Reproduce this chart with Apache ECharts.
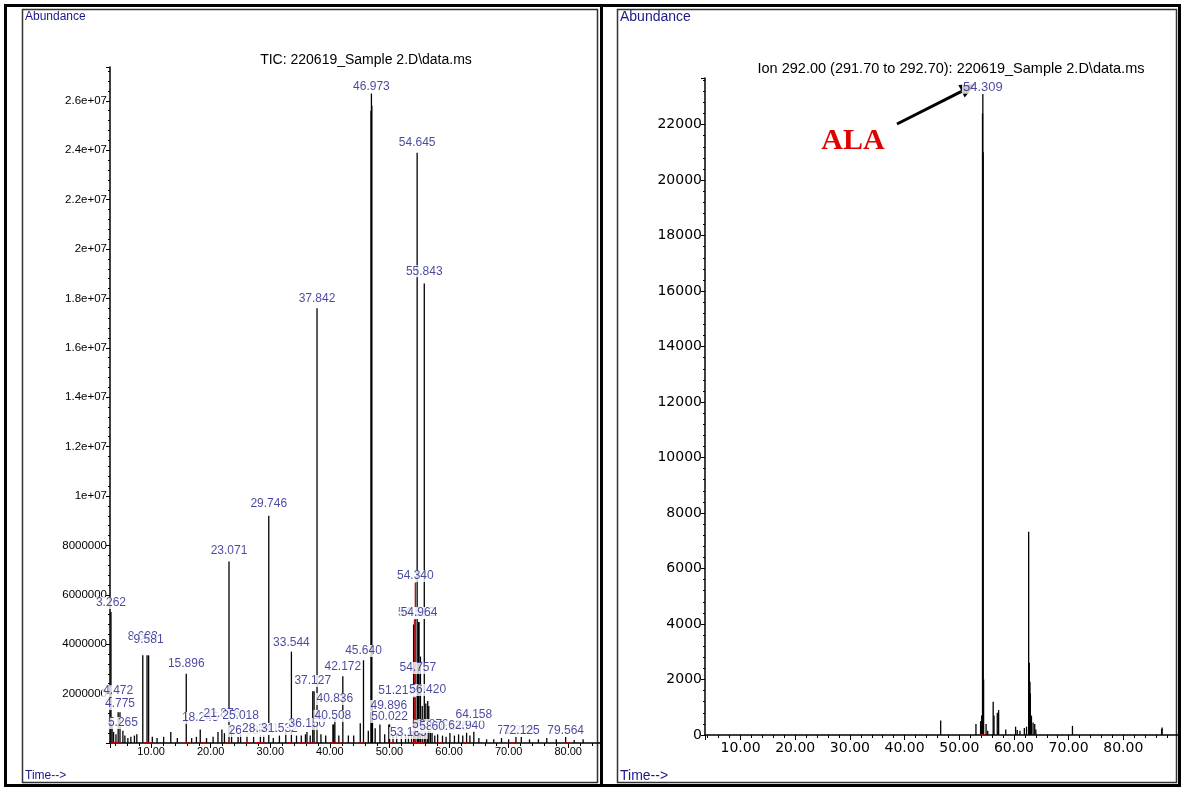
<!DOCTYPE html>
<html>
<head>
<meta charset="utf-8">
<script src="https://cdn.jsdelivr.net/npm/echarts@6/dist/echarts.min.js"></script>
<style>
  html, body { margin: 0; padding: 0; background: #ffffff; }
  #chart { width: 1182px; height: 789px; }
</style>
</head>
<body>
<div id="chart"></div>
<script>
// ---------- data ----------
// Total ion chromatogram: [retention time (min), abundance]
const ticPeaks = [
  [3.262, 5.3e6], [3.45, 0.8e6], [3.7, 0.45e6], [4.1, 0.35e6],
  [4.472, 1.25e6], [4.775, 1.25e6], [5.265, 0.5e6], [5.6, 0.3e6], [6.1, 0.2e6],
  [6.6, 0.25e6], [7.2, 0.3e6], [7.6, 0.35e6], [8.603, 3.55e6], [9.318, 3.55e6],
  [9.581, 3.55e6], [10.2, 0.25e6], [11.0, 0.2e6], [12.1, 0.25e6], [13.3, 0.45e6],
  [14.4, 0.2e6], [15.896, 2.8e6], [16.8, 0.2e6], [17.6, 0.25e6], [18.245, 0.55e6],
  [19.3, 0.2e6], [20.4, 0.25e6], [21.223, 0.45e6], [21.876, 0.55e6], [22.304, 0.4e6],
  [23.071, 7.35e6], [23.5, 0.6e6], [24.6, 0.25e6], [25.018, 0.35e6], [26.088, 0.3e6],
  [27.2, 0.25e6], [28.341, 0.35e6], [28.9, 0.3e6], [29.746, 9.2e6], [30.5, 0.2e6],
  [31.532, 0.3e6], [32.6, 0.45e6], [33.544, 3.7e6], [34.4, 0.3e6], [35.2, 0.3e6],
  [35.9, 0.35e6], [36.150, 0.45e6], [36.7, 0.3e6], [37.127, 2.1e6], [37.35, 2.1e6],
  [37.842, 17.6e6], [38.5, 0.35e6], [39.3, 0.3e6], [40.508, 0.75e6], [40.65, 0.75e6],
  [40.836, 1.0e6], [41.5, 0.3e6], [42.172, 2.7e6], [43.1, 0.3e6], [44.0, 0.3e6],
  [45.1, 0.8e6], [45.640, 3.35e6], [46.45, 0.5e6], [46.90, 25.6e6], [46.973, 26.3e6],
  [47.04, 25.8e6], [47.15, 1.6e6], [47.6, 0.6e6], [48.4, 0.75e6], [49.2, 0.35e6],
  [49.896, 0.75e6], [50.022, 0.75e6], [50.6, 0.3e6], [51.213, 0.4e6], [52.0, 0.3e6],
  [52.7, 0.35e6], [53.185, 0.35e6], [53.7, 0.5e6], [54.05, 4.8e6], [54.200, 5.0e6],
  [54.340, 6.5e6], [54.645, 23.9e6], [54.757, 2.9e6], [54.850, 4.9e6], [54.964, 4.9e6],
  [55.2, 3.5e6], [55.5, 1.5e6], [55.843, 18.6e6], [56.1, 1.6e6], [56.420, 1.7e6],
  [56.6, 1.5e6], [56.872, 0.5e6], [57.148, 0.4e6], [57.6, 0.3e6], [58.082, 0.35e6],
  [58.9, 0.3e6], [59.5, 0.25e6], [60.146, 0.4e6], [60.9, 0.3e6], [61.6, 0.35e6],
  [62.3, 0.3e6], [62.940, 0.45e6], [63.5, 0.3e6], [64.158, 0.5e6], [65.0, 0.2e6],
  [66.3, 0.15e6], [67.5, 0.15e6], [68.8, 0.2e6], [70.0, 0.15e6], [71.228, 0.35e6],
  [72.125, 0.3e6], [73.5, 0.15e6], [75.0, 0.15e6], [76.4, 0.2e6], [78.0, 0.15e6],
  [79.564, 0.25e6], [81.0, 0.12e6], [82.5, 0.15e6]
];
// integrated peaks drawn in red
const ticRedTimes = [54.340, 54.200];
// integration start/stop events marked on the TIC baseline
const ticEventTimes = [
  3.6, 4.5, 9.3, 9.8, 16.0, 18.7, 22.8, 26.1, 28.0, 28.8, 33.3, 35.3, 36.3, 37.2,
  40.5, 41.7, 45.4, 50.4, 54.0, 54.5, 55.1, 55.6, 58.5, 62.7, 70.7, 79.8
];

// labelled peaks on the TIC (retention times)
const ticLabelTimes = [
  3.262, 4.472, 4.775, 5.265, 8.603, 9.581, 15.896, 18.245, 21.876, 25.018,
  26.088, 28.341, 31.532, 36.150, 23.071, 29.746, 33.544, 37.127, 37.842, 40.836,
  40.508, 42.172, 45.640, 46.973, 49.896, 50.022, 51.213, 53.185, 54.340, 54.645,
  54.512, 54.964, 54.757, 55.843, 56.420, 56.872, 58.082, 60.146, 62.940, 64.158,
  71.228, 72.125, 79.564
];

// Extracted ion 292.00: [retention time (min), abundance]
const ionPeaks = [
  [46.6, 520], [53.05, 400], [53.9, 500], [54.10, 700], [54.25, 22400],
  [54.309, 23100], [54.37, 21000], [54.45, 2000], [54.9, 400], [55.2, 150],
  [56.2, 1200], [56.35, 700], [56.95, 800], [57.2, 900], [58.5, 200], [60.3, 300],
  [60.6, 180], [61.1, 150], [61.9, 250], [62.3, 300], [62.69, 7330], [62.8, 2600],
  [62.93, 1920], [63.0, 1500], [63.2, 700], [63.5, 450], [63.8, 400], [64.0, 200],
  [70.7, 330], [87.0, 220], [87.1, 270]
];
const ionLabelTimes = [54.309];
const ionEventTimes = [54.35];

// axis tick labels
const ticYTickLabels = ['', '2000000', '4000000', '6000000', '8000000', '1e+07', '1.2e+07',
  '1.4e+07', '1.6e+07', '1.8e+07', '2e+07', '2.2e+07', '2.4e+07', '2.6e+07'];
const ionYTickLabels = ['0', '2000', '4000', '6000', '8000', '10000', '12000', '14000',
  '16000', '18000', '20000', '22000'];
const timeTickLabels = ['10.00', '20.00', '30.00', '40.00', '50.00', '60.00', '70.00', '80.00'];

// ---------- layout ----------
// abundance at which each TIC label sits (labels are stacked to avoid the traces)
const ticLabelLevel = [
  5.67e6, 2.1e6, 1.58e6, 0.81e6, 4.29e6, 4.17e6, 3.2e6, 1.01e6, 1.17e6, 1.09e6,
  0.49e6, 0.57e6, 0.57e6, 0.77e6, 7.77e6, 9.68e6, 4.05e6, 2.51e6, 18.0e6, 1.78e6,
  1.09e6, 3.08e6, 3.72e6, 26.56e6, 1.5e6, 1.05e6, 2.1e6, 0.4e6, 6.76e6, 24.29e6,
  5.26e6, 5.26e6, 3.04e6, 19.1e6, 2.15e6, 0.73e6, 0.65e6, 0.65e6, 0.69e6, 1.13e6,
  0.49e6, 0.49e6, 0.49e6
];
const ionLabelLevel = [23350];

const NAVY = '#1a1a86';
const RED = '#c00000';
const FONT = '"Liberation Sans", Arial, sans-serif';
const WIDE = '"DejaVu Sans", "Liberation Sans", sans-serif';

function tickText(list, step, offset) {
  return function (v) {
    const i = Math.round(v / step) - offset;
    if (Math.abs(v / step - Math.round(v / step)) > 1e-6) return '';
    return list[i] !== undefined ? list[i] : '';
  };
}

function barData(peaks, redTimes) {
  return peaks.map(function (p) {
    const red = redTimes.indexOf(p[0]) >= 0;
    return { value: p, itemStyle: { color: red ? '#b01010' : '#000000' } };
  });
}

function labelData(times, levels) {
  return times.map(function (t, i) { return [t, levels[i], t.toFixed(3)]; });
}

const axisLineStyle = { show: true, lineStyle: { color: '#000', width: 1.5 } };

function makeXAxis(grid, min, max, font, size, margin) {
  return {
    type: 'value', gridIndex: grid, min: min, max: max, splitNumber: 9,
    axisLine: axisLineStyle, splitLine: { show: false },
    axisLabel: {
      color: '#000', fontFamily: font, fontSize: size, margin: margin,
      showMinLabel: false, showMaxLabel: false,
      formatter: tickText(timeTickLabels, 10, 1)
    },
    axisTick: { show: true, length: 5, lineStyle: { color: '#000' } },
    minorTick: { show: true, splitNumber: 5, length: 3, lineStyle: { color: '#000' } }
  };
}

function makeYAxis(grid, max, interval, labels, font, size) {
  return {
    type: 'value', gridIndex: grid, min: 0, max: max, interval: interval,
    axisLine: axisLineStyle, splitLine: { show: false },
    axisLabel: {
      color: '#000', fontFamily: font, fontSize: size, margin: 3, showMaxLabel: false,
      formatter: tickText(labels, interval, 0)
    },
    axisTick: { show: true, length: 4, lineStyle: { color: '#000' } },
    minorTick: { show: true, splitNumber: 5, length: 2, lineStyle: { color: '#000' } }
  };
}

function labelSeries(xi, data, size) {
  return {
    type: 'scatter', xAxisIndex: xi, yAxisIndex: xi, symbolSize: 0, z: 10,
    data: data, silent: true,
    label: {
      show: true, position: 'inside', formatter: function (p) { return p.value[2]; },
      color: NAVY, fontFamily: FONT, fontSize: size, backgroundColor: '#fff',
      padding: [0, 1, 0, 1]
    }
  };
}

function eventSeries(xi, times) {
  return {
    type: 'scatter', xAxisIndex: xi, yAxisIndex: xi, symbol: 'rect', symbolSize: [5, 2],
    itemStyle: { color: RED }, z: 5, silent: true,
    data: times.map(function (t) { return [t, 0]; })
  };
}

const chart = echarts.init(document.getElementById('chart'), null, { renderer: 'canvas' });

chart.setOption({
  animation: false,
  backgroundColor: '#fff',
  grid: [
    { left: 110, top: 67, width: 491, height: 676 },
    { left: 705, top: 78, width: 473, height: 657 }
  ],
  xAxis: [
    makeXAxis(0, 3.1, 85.5, FONT, 11, 3),
    makeXAxis(1, 3.5, 90, WIDE, 14, 6)
  ],
  yAxis: [
    makeYAxis(0, 27.37e6, 2e6, ticYTickLabels, FONT, 11.5),
    makeYAxis(1, 23680, 2000, ionYTickLabels, WIDE, 14)
  ],
  series: [
    {
      type: 'bar', xAxisIndex: 0, yAxisIndex: 0, barWidth: 1.3,
      data: barData(ticPeaks, ticRedTimes), silent: true
    },
    eventSeries(0, ticEventTimes),
    labelSeries(0, labelData(ticLabelTimes, ticLabelLevel), 12),
    {
      type: 'bar', xAxisIndex: 1, yAxisIndex: 1, barWidth: 1.3,
      data: barData(ionPeaks, []), silent: true
    },
    eventSeries(1, ionEventTimes),
    labelSeries(1, labelData(ionLabelTimes, ionLabelLevel), 13)
  ]
});

// frames, titles and the arrow pointing at the 292 ion peak
const peakTop = chart.convertToPixel({ xAxisIndex: 1, yAxisIndex: 1 }, [54.309, 23100]);
const tip = [peakTop[0] - 7, peakTop[1] - 10];
const tail = [897, 124];
const ang = Math.atan2(tip[1] - tail[1], tip[0] - tail[0]);
const hl = 16, hw = 7;
const base = [tip[0] - hl * Math.cos(ang), tip[1] - hl * Math.sin(ang)];
const head = [
  tip,
  [base[0] + hw * Math.sin(ang), base[1] - hw * Math.cos(ang)],
  [base[0] - hw * Math.sin(ang), base[1] + hw * Math.cos(ang)]
];

function txt(x, y, s, opt) {
  return {
    type: 'text', x: x, y: y, silent: true,
    style: Object.assign({ text: s, fill: '#000', font: '12px ' + FONT, align: 'left', verticalAlign: 'middle' }, opt || {})
  };
}

chart.setOption({
  graphic: [
    { type: 'rect', shape: { x: 5.5, y: 5.5, width: 1174, height: 780 }, style: { fill: null, stroke: '#000', lineWidth: 3 }, silent: true },
    { type: 'line', shape: { x1: 601.5, y1: 5, x2: 601.5, y2: 786 }, style: { stroke: '#000', lineWidth: 3 }, silent: true },
    { type: 'rect', shape: { x: 22.5, y: 9.5, width: 575, height: 773 }, style: { fill: null, stroke: '#333', lineWidth: 1.5 }, silent: true },
    { type: 'rect', shape: { x: 617.5, y: 9.5, width: 559, height: 773 }, style: { fill: null, stroke: '#333', lineWidth: 1.5 }, silent: true },
    txt(25, 17, 'Abundance', { fill: NAVY, font: '12px ' + FONT }),
    txt(25, 776, 'Time-->', { fill: NAVY, font: '12px ' + FONT }),
    txt(620, 17, 'Abundance', { fill: NAVY, font: '14px ' + FONT }),
    txt(620, 776, 'Time-->', { fill: NAVY, font: '14px ' + FONT }),
    txt(366, 60, 'TIC: 220619_Sample 2.D\\data.ms', { align: 'center', font: '14px ' + FONT }),
    txt(951, 69, 'Ion 292.00 (291.70 to 292.70): 220619_Sample 2.D\\data.ms', { align: 'center', font: '14.5px ' + FONT }),
    txt(853, 141, 'ALA', { align: 'center', fill: '#e00000', font: 'bold 30px "Liberation Serif", "Times New Roman", serif' }),
    { type: 'line', shape: { x1: tail[0], y1: tail[1], x2: base[0], y2: base[1] }, style: { stroke: '#000', lineWidth: 3 }, silent: true },
    { type: 'polygon', shape: { points: head }, style: { fill: '#000' }, silent: true }
  ]
});
</script>
</body>
</html>
